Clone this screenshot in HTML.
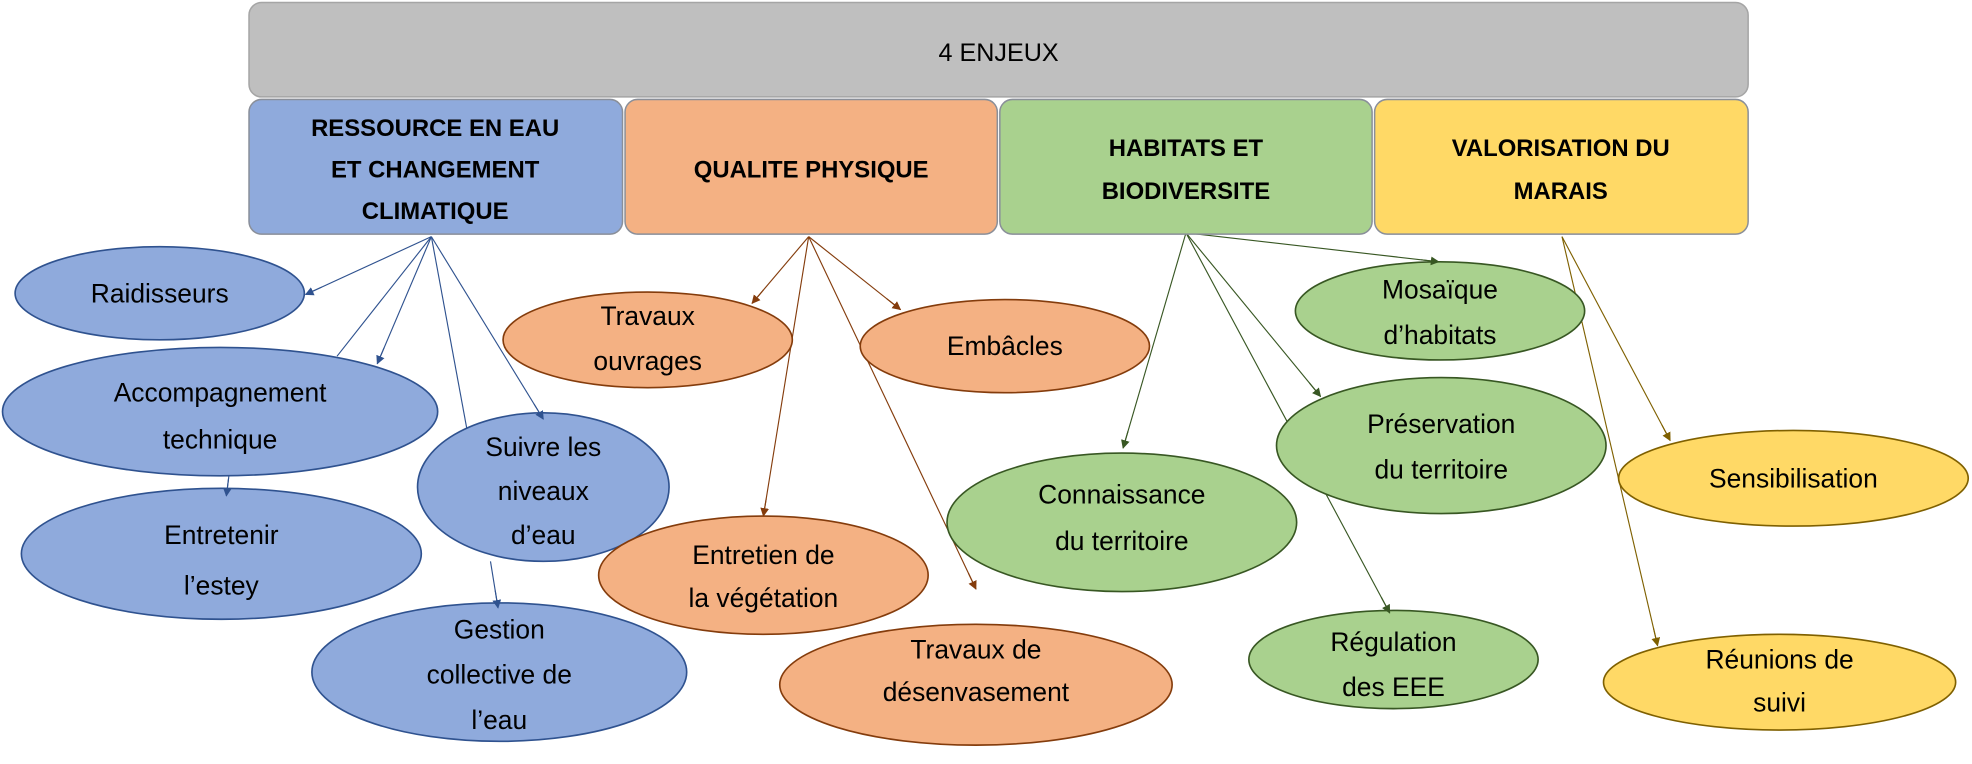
<!DOCTYPE html>
<html><head><meta charset="utf-8"><style>
html,body{margin:0;padding:0;background:#fff;width:1972px;height:764px;overflow:hidden}
svg{display:block}
text{font-family:"Liberation Sans",sans-serif;text-anchor:middle;dominant-baseline:central}
</style></head><body>
<svg id="s" width="1972" height="764" viewBox="0 0 1568 607" preserveAspectRatio="none" xmlns="http://www.w3.org/2000/svg">
<defs>
<marker id="mb" viewBox="0 0 10 10" refX="9" refY="5" markerWidth="7" markerHeight="7" markerUnits="userSpaceOnUse" orient="auto"><path d="M0,0L10,5L0,10z" fill="#2f528f"/></marker>
<marker id="mo" viewBox="0 0 10 10" refX="9" refY="5" markerWidth="7" markerHeight="7" markerUnits="userSpaceOnUse" orient="auto"><path d="M0,0L10,5L0,10z" fill="#843c0c"/></marker>
<marker id="mg" viewBox="0 0 10 10" refX="9" refY="5" markerWidth="7" markerHeight="7" markerUnits="userSpaceOnUse" orient="auto"><path d="M0,0L10,5L0,10z" fill="#385723"/></marker>
<marker id="my" viewBox="0 0 10 10" refX="9" refY="5" markerWidth="7" markerHeight="7" markerUnits="userSpaceOnUse" orient="auto"><path d="M0,0L10,5L0,10z" fill="#7f6000"/></marker>
</defs>
<g id="lines"></g>
<rect x="198" y="2" width="1192" height="75" rx="10" fill="#bfbfbf" stroke="#a5a5a5" stroke-width="1.2"/>
<text x="794" y="42" font-size="20">4 ENJEUX</text>
<rect x="198" y="79" width="297" height="107" rx="10" fill="#8faadc" stroke="#8a8f99" stroke-width="1.2"/>
<rect x="497" y="79" width="296" height="107" rx="10" fill="#f4b183" stroke="#8a8f99" stroke-width="1.2"/>
<rect x="795" y="79" width="296" height="107" rx="10" fill="#a9d18e" stroke="#8a8f99" stroke-width="1.2"/>
<rect x="1093" y="79" width="297" height="107" rx="10" fill="#ffd966" stroke="#8a8f99" stroke-width="1.2"/>
<g font-weight="bold" font-size="19">
<text x="346" y="102">RESSOURCE EN EAU</text><text x="346" y="135">ET CHANGEMENT</text><text x="346" y="168">CLIMATIQUE</text>
<text x="645" y="135">QUALITE PHYSIQUE</text>
<text x="943" y="118">HABITATS ET</text><text x="943" y="152">BIODIVERSITE</text>
<text x="1241" y="118">VALORISATION DU</text><text x="1241" y="152">MARAIS</text>
</g>
<g id="ells"></g>
<g id="heads"></g>
</svg>
<script>
var NS="http://www.w3.org/2000/svg";
var C={b:["#8faadc","#2f528f","mb"],o:["#f4b183","#843c0c","mo"],g:["#a9d18e","#385723","mg"],y:["#ffd966","#7f6000","my"]};
var E=[
["b",127,233,115,37,[["Raidisseurs",233]]],
["b",175,327,173,51,[["Accompagnement",312],["technique",349]]],
["b",176,440,159,52,[["Entretenir",425],["l’estey",465]]],
["b",432,387,100,59,[["Suivre les",355],["niveaux",390],["d’eau",425]]],
["b",397,534,149,55,[["Gestion",500],["collective de",536],["l’eau",572]]],
["o",515,270,115,38,[["Travaux",251],["ouvrages",287]]],
["o",799,275,115,37,[["Embâcles",275]]],
["o",607,457,131,47,[["Entretien de",441],["la végétation",475]]],
["o",776,544,156,48,[["Travaux de",516],["désenvasement",550]]],
["g",1145,247,115,39,[["Mosaïque",230],["d’habitats",266]]],
["g",892,415,139,55,[["Connaissance",393],["du territoire",430]]],
["g",1146,354,131,54,[["Préservation",337],["du territoire",373]]],
["g",1108,524,115,39,[["Régulation",510],["des EEE",546]]],
["y",1426,380,139,38,[["Sensibilisation",380]]],
["y",1415,542,140,38,[["Réunions de",524],["suivi",558]]]
];
var A=[
["b",343,188,243,234,1],["b",343,188,300,289,1],["b",343,188,268,283,0],["b",343,188,432,333,1],["b",343,188,372,345,0],
["b",182,378,180,394,1],["b",390,446,396,483,1],
["o",643,188,598,241,1],["o",643,188,716,246,1],["o",643,188,607,410,1],["o",643,188,776,468,1],
["g",943,185,1144,208,1],["g",943,185,893,356,1],["g",943,185,1050,315,1],["g",943,185,1105,487,1],
["y",1242,188,1328,350,1],["y",1242,188,1318,513,1]
];
function el(t,a,p){var e=document.createElementNS(NS,t);for(var k in a)e.setAttribute(k,a[k]);p.appendChild(e);return e;}
var L=document.getElementById("lines"),G=document.getElementById("ells"),H=document.getElementById("heads");
A.forEach(function(a){var c=C[a[0]];el("line",{x1:a[1],y1:a[2],x2:a[3],y2:a[4],stroke:c[1],"stroke-width":0.9},L);
if(a[5]){var dx=a[3]-a[1],dy=a[4]-a[2],d=Math.sqrt(dx*dx+dy*dy),f=Math.min(14,d)/d;
el("line",{x1:a[3]-dx*f,y1:a[4]-dy*f,x2:a[3],y2:a[4],stroke:c[1],"stroke-width":0.9,"marker-end":"url(#"+c[2]+")"},H);}});
E.forEach(function(e){var c=C[e[0]];el("ellipse",{cx:e[1],cy:e[2],rx:e[3],ry:e[4],fill:c[0],stroke:c[1],"stroke-width":1.3},G);
e[5].forEach(function(t){var x=el("text",{x:e[1],y:t[1],"font-size":21},G);x.textContent=t[0];});});
</script>
</body></html>
